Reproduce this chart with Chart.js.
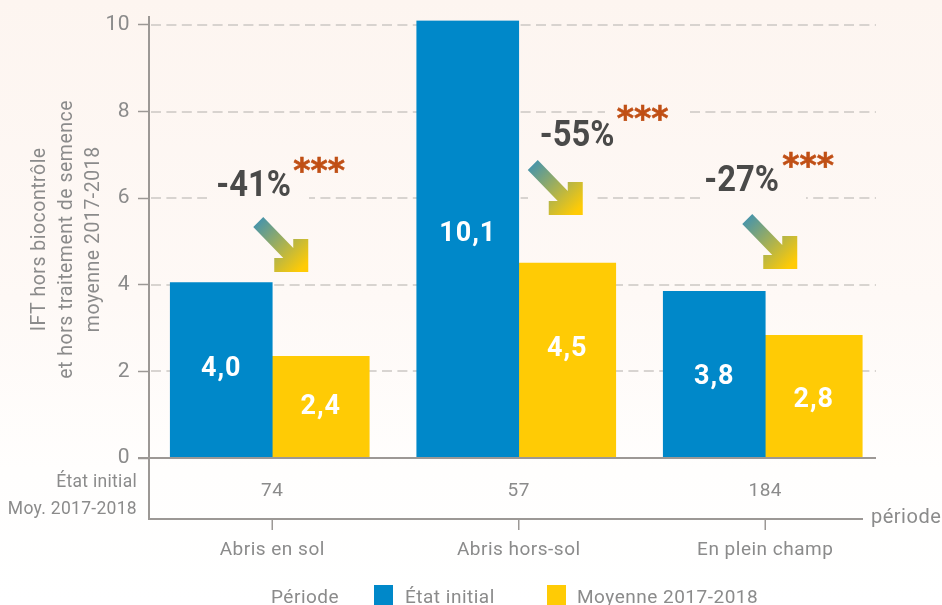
<!DOCTYPE html>
<html>
<head>
<meta charset="utf-8">
<script src="https://cdn.jsdelivr.net/npm/chart.js@4"></script>
<style>
  html, body { margin: 0; padding: 0; }
  body { width: 942px; height: 605px; overflow: hidden; background: linear-gradient(#fdf5f0 0, #fef9f6 300px, #fffefd 470px, #ffffff 605px); }
  canvas { display: block; }
</style>
</head>
<body>
<canvas id="myChart" width="942" height="605"></canvas>
<script>
const categories = ['Abris en sol', 'Abris hors-sol', 'En plein champ'];
const effectifs = ['74', '57', '184'];
const etatInitial = [4.05, 10.1, 3.85];
const moyenne = [2.35, 4.5, 2.83];
const etatInitialTextes = ['4,0', '10,1', '3,8'];
const moyenneTextes = ['2,4', '4,5', '2,8'];
const baisses = ['-41%', '-55%', '-27%'];
const yTicks = [0, 2, 4, 6, 8, 10];

const GRIS = '#8b8b8b';
const BLEU = '#0088c9';
const JAUNE = '#ffcb05';
const POLICE = 'Roboto, sans-serif';

// place des annotations, en pixels par rapport au centre de chaque groupe
const notes = [
  { txt: -56, base: 196, star: 21, starBase: 182, fl: -9, flTop: 217 },
  { txt: 21, base: 146, star: 98, starBase: 130, fl: 19, flTop: 160 },
  { txt: -61, base: 191, star: 17, starBase: 177, fl: -13, flTop: 214 }
];
// trous dans les pointilles : x1, x2, y1, y2
const trous = [
  [207, 309, 190, 208],
  [605, 689, 100, 120],
  [528, 597, 190, 208],
  [702, 806, 190, 208]
];
const decalageTextes = [[1, 0], [5, 11], [-3, -4]];

function fleche(ctx, x, y) {
  const grad = ctx.createLinearGradient(x - 5, y + 5, x + 40, y + 50);
  grad.addColorStop(0, '#4a95a8');
  grad.addColorStop(1, JAUNE);
  ctx.fillStyle = grad;
  ctx.beginPath();
  ctx.moveTo(x, y);
  ctx.lineTo(x + 30, y + 31);
  ctx.lineTo(x + 30, y + 22);
  ctx.lineTo(x + 45, y + 22);
  ctx.lineTo(x + 45, y + 55);
  ctx.lineTo(x + 11, y + 55);
  ctx.lineTo(x + 11, y + 41);
  ctx.lineTo(x + 20, y + 41);
  ctx.lineTo(x - 10, y + 10);
  ctx.closePath();
  ctx.fill();
}

const decor = {
  id: 'decor',
  beforeDraw(chart) {
    chart.ctx.letterSpacing = '0.5px';
  },
  beforeDatasetsDraw(chart) {
    const { ctx, scales: { y } } = chart;
    ctx.save();
    // lignes pointillees
    ctx.strokeStyle = '#cbc7c3';
    ctx.lineWidth = 1.3;
    ctx.setLineDash([10, 5.4]);
    yTicks.slice(1).forEach(v => {
      const py = Math.round(y.getPixelForValue(v));
      ctx.beginPath();
      ctx.moveTo(151, py);
      ctx.lineTo(876, py);
      ctx.stroke();
    });
    ctx.setLineDash([]);
    trous.forEach(t => ctx.clearRect(t[0], t[2], t[1] - t[0], t[3] - t[2]));
    ctx.restore();
  },
  afterDatasetsDraw(chart) {
    const { ctx, scales: { x, y } } = chart;
    const base = y.getPixelForValue(0);
    ctx.save();
    ctx.strokeStyle = '#9c9895';
    ctx.lineWidth = 2;
    ctx.beginPath();
    ctx.moveTo(149, 16);
    ctx.lineTo(149, 519);
    ctx.lineTo(863, 519);
    ctx.moveTo(138, base);
    ctx.lineTo(876, base);
    ctx.stroke();
    ctx.lineWidth = 1.5;
    categories.forEach((c, i) => {
      const px = x.getPixelForValue(i);
      ctx.beginPath();
      ctx.moveTo(px, 519);
      ctx.lineTo(px, 530);
      ctx.stroke();
    });

    // valeurs dans les barres
    ctx.fillStyle = '#ffffff';
    ctx.font = 'bold 27px ' + POLICE;
    ctx.textAlign = 'center';
    ctx.textBaseline = 'middle';
    ctx.letterSpacing = '1px';
    [etatInitialTextes, moyenneTextes].forEach((textes, d) => {
      chart.getDatasetMeta(d).data.forEach((bar, i) => {
        ctx.fillText(textes[i], bar.x, (bar.y + bar.base) / 2 - decalageTextes[i][d]);
      });
    });

    // baisses et fleches
    notes.forEach((n, i) => {
      const c = x.getPixelForValue(i);
      ctx.textAlign = 'left';
      ctx.textBaseline = 'alphabetic';
      ctx.letterSpacing = '0px';
      ctx.fillStyle = '#4a4a49';
      ctx.font = 'bold 36px ' + POLICE;
      ctx.save();
      ctx.translate(c + n.txt, n.base);
      ctx.scale(0.91, 1);
      ctx.fillText(baisses[i], 0, 0);
      ctx.restore();
      ctx.fillStyle = '#c04f15';
      ctx.strokeStyle = '#c04f15';
      ctx.lineWidth = 0.6;
      ctx.font = 'bold 33px "DejaVu Sans"';
      ctx.fillText('***', c + n.star, n.starBase);
      ctx.strokeText('***', c + n.star, n.starBase);
      fleche(ctx, c + n.fl, n.flTop);
    });

    // textes du tableau
    ctx.letterSpacing = '0.3px';
    ctx.fillStyle = GRIS;
    ctx.font = '17.5px ' + POLICE;
    ctx.textAlign = 'right';
    ctx.textBaseline = 'middle';
    ctx.fillText('État initial', 137, 483);
    ctx.fillText('Moy. 2017-2018', 137, 510);
    ctx.textAlign = 'left';
    ctx.font = '20px ' + POLICE;
    ctx.letterSpacing = '0.5px';
    ctx.fillText('période', 871, 518);

    // legende
    ctx.font = '19px ' + POLICE;
    ctx.textBaseline = 'alphabetic';
    ctx.fillText('Période', 271, 603);
    chart.data.datasets.forEach((ds, i) => {
      const lx = i === 0 ? 374 : 547;
      ctx.fillStyle = ds.backgroundColor;
      ctx.fillRect(lx, 585, 19, 20);
      ctx.fillStyle = GRIS;
      ctx.fillText(ds.label, lx + (i === 0 ? 31 : 30), 603);
    });
    ctx.restore();
  }
};

const ctx = document.getElementById('myChart').getContext('2d');

new Chart(ctx, {
  type: 'bar',
  data: {
    labels: categories.map((c, i) => [effectifs[i], c]),
    datasets: [
      { label: 'État initial', data: etatInitial, backgroundColor: BLEU, barThickness: 102 },
      { label: 'Moyenne 2017-2018', data: moyenne, backgroundColor: JAUNE, barThickness: 97 }
    ]
  },
  options: {
    responsive: false,
    animation: false,
    layout: { padding: { top: 19.7, right: 53.5, left: 0, bottom: 0 } },
    plugins: { legend: { display: false }, tooltip: { enabled: false } },
    scales: {
      x: {
        afterFit: s => { s.height = 147; },
        grid: { display: false },
        border: { display: false },
        ticks: {
          color: GRIS,
          padding: -4,
          autoSkip: false,
          maxRotation: 0,
          font: { family: POLICE, size: 19, lineHeight: '59px' }
        }
      },
      y: {
        min: 0,
        max: 10.1,
        afterFit: s => { s.width = 149; },
        grid: { drawOnChartArea: false, tickLength: 11, tickColor: '#9c9895', tickWidth: 1.5 },
        border: { display: false },
        ticks: {
          stepSize: 2,
          includeBounds: false,
          color: GRIS,
          padding: 8,
          font: { family: POLICE, size: 21 }
        },
        title: {
          display: true,
          text: ['IFT hors biocontrôle', 'et hors traitement de semence', 'moyenne 2017-2018'],
          color: GRIS,
          padding: { top: 27, bottom: 0 },
          font: { family: POLICE, size: 19.5, lineHeight: '27px' }
        }
      }
    }
  },
  plugins: [decor]
});
</script>
</body>
</html>
